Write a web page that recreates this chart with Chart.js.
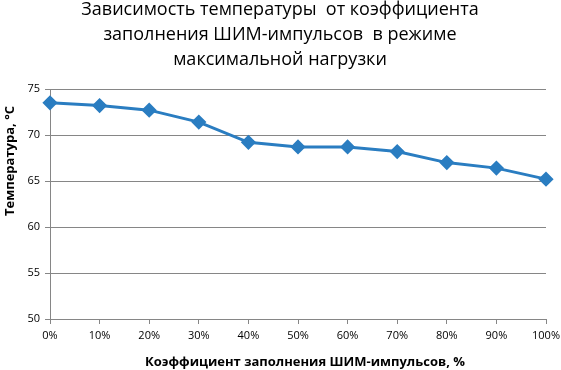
<!DOCTYPE html>
<html><head><meta charset="utf-8">
<script src="https://cdn.jsdelivr.net/npm/chart.js@4"></script>
<style>html,body{margin:0;padding:0;background:#fff}#w{width:561px;height:370px}</style>
</head><body><div id="w"><canvas id="c" width="561" height="370"></canvas></div>
<script>
const categories = ['0%','10%','20%','30%','40%','50%','60%','70%','80%','90%','100%'];
const temperature = [73.5, 73.2, 72.7, 71.4, 69.2, 68.7, 68.7, 68.2, 67.0, 66.4, 65.2];
const yTicks = [50, 55, 60, 65, 70, 75];
const titleLines = ['Зависимость температуры  от коэффициента', 'заполнения ШИМ-импульсов  в режиме', 'максимальной нагрузки'];
const xTitle = 'Коэффициент заполнения ШИМ-импульсов, %';
const yTitle = 'Температура, °C';

const fam = "'Open Sans', 'Liberation Sans', sans-serif";

const textPlugin = {
  id: 'texts',
  afterDraw(chart) {
    const ctx = chart.ctx;
    ctx.save();
    ctx.fillStyle = '#000';
    ctx.textAlign = 'center';
    ctx.textBaseline = 'alphabetic';
    ctx.font = `normal 18px ${fam}`;
    titleLines.forEach((t, i) => ctx.fillText(t, 280, 15 + i * 24.8));
    ctx.font = `bold 13px ${fam}`;
    ctx.fillText(xTitle, 305, 366);
    ctx.translate(14, 161);
    ctx.rotate(-Math.PI / 2);
    ctx.fillText(yTitle, 0, 0);
    ctx.restore();
  }
};

new Chart(document.getElementById('c'), {
  type: 'line',
  data: { labels: categories, datasets: [{
    data: temperature, borderColor: '#2A7DC1', backgroundColor: '#2A7DC1',
    borderWidth: 3, pointStyle: 'rectRot', pointRadius: 5.5, pointHoverRadius: 5.5, tension: 0
  }]},
  plugins: [textPlugin],
  options: {
    responsive: false, animation: false, devicePixelRatio: 1,
    layout: { padding: { left: 0, right: 15, top: 89, bottom: 0 } },
    plugins: { legend: { display: false }, tooltip: { enabled: false }, title: { display: false } },
    scales: {
      x: {
        offset: false,
        grid: { display: true, drawOnChartArea: false, drawTicks: true, tickLength: 5, color: '#868686' },
        border: { color: '#868686' },
        ticks: { color: '#000', font: { family: fam, size: 11 }, padding: 5, maxRotation: 0, autoSkip: false },
        afterFit: s => { s.height = 51; s.paddingRight = 0; s.paddingLeft = 0; }
      },
      y: {
        min: 50, max: 75,
        afterBuildTicks: s => { s.ticks = yTicks.map(v => ({ value: v })); },
        grid: { color: '#868686', tickLength: 5 },
        border: { color: '#868686' },
        ticks: { color: '#000', font: { family: fam, size: 11 }, padding: 5 },
        afterFit: s => { s.width = 50; s.paddingTop = 0; s.paddingBottom = 0; }
      }
    }
  }
});
</script></body></html>
